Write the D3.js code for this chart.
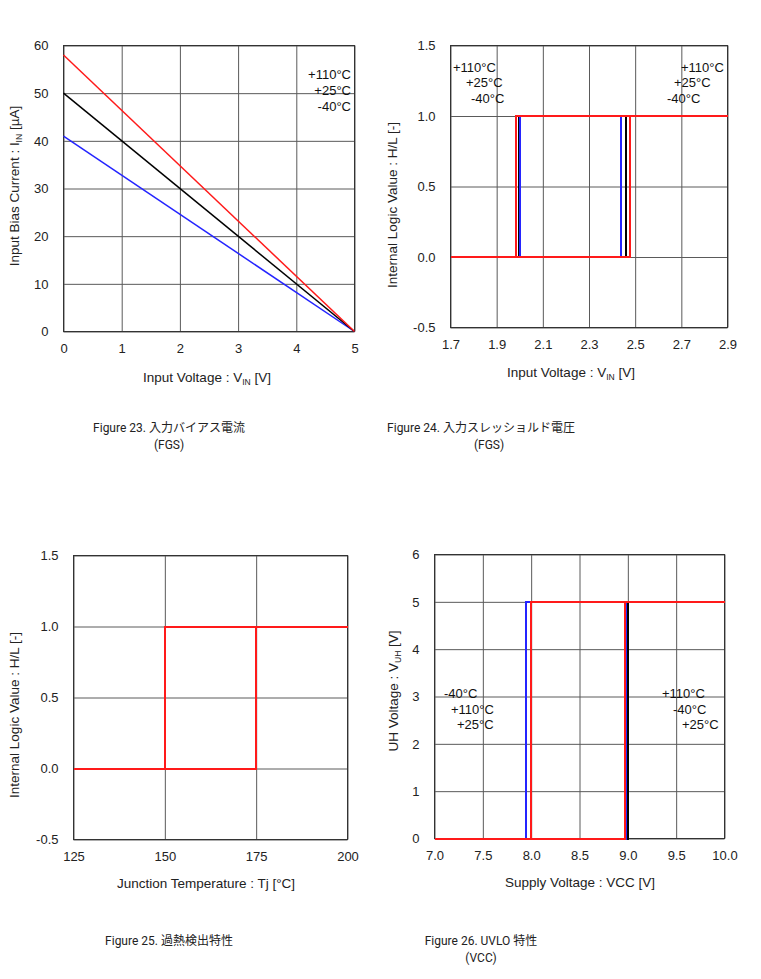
<!DOCTYPE html>
<html>
<head>
<meta charset="utf-8">
<script src="https://cdn.jsdelivr.net/npm/d3@7"></script>
<style>
  body { margin: 0; background: #fff; }
  svg { display: block; font-family: "Liberation Sans", Arial, "Noto Sans CJK JP", sans-serif; }
  .cap { font-family: Roboto, "Noto Sans CJK JP", sans-serif; }
</style>
</head>
<body>
<div id="chart"></div>
<script>
const RED = "#ff1a1a";
const BLACK = "#000000";
const BLUE = "#2424ff";
const GRID = "#5a5a5a";

// Figure 23: input bias current vs input voltage
const fig23Vin = [0, 5];
const fig23Hot = [58, 0];
const fig23Room = [50, 0];
const fig23Cold = [41, 0];
const fig23XTicks = [0, 1, 2, 3, 4, 5];
const fig23YTicks = [0, 10, 20, 30, 40, 50, 60];

// Figure 24: input threshold (rise / fall) for +110, +25, -40 °C
const fig24Temps = ["+110°C", "+25°C", "-40°C"];
const fig24Rise = [2.477, 2.46, 2.44];
const fig24Fall = [1.982, 1.998, 2.003];
const fig24XTicks = [1.7, 1.9, 2.1, 2.3, 2.5, 2.7, 2.9];
const fig24YTicks = [-0.5, 0.0, 0.5, 1.0, 1.5];

// Figure 25: thermal shutdown
const fig25Rise = [175];
const fig25Fall = [150];
const fig25XTicks = [125, 150, 175, 200];
const fig25YTicks = [-0.5, 0.0, 0.5, 1.0, 1.5];

// Figure 26: UVLO
const fig26Temps = ["+110°C", "+25°C", "-40°C"];
const fig26Rise = [8.972, 9.0, 8.979];
const fig26Fall = [7.995, 8.0, 7.95];
const fig26XTicks = [7.0, 7.5, 8.0, 8.5, 9.0, 9.5, 10.0];
const fig26YTicks = [0, 1, 2, 3, 4, 5, 6];

const tempColor = { "+110°C": RED, "+25°C": BLACK, "-40°C": BLUE };
const drawOrder = ["+25°C", "-40°C", "+110°C"];

const svg = d3.select("#chart").append("svg")
  .attr("width", 761).attr("height", 979);

function panel(cfg) {
  const x = d3.scaleLinear().domain(cfg.xDomain).range([cfg.left + 0.5, cfg.left + cfg.w + 0.5]);
  const y = d3.scaleLinear().domain(cfg.yDomain).range([cfg.top + cfg.h + 0.5, cfg.top + 0.5]);
  const g = svg.append("g");

  // grid + tick labels
  const xa = g.append("g").attr("transform", `translate(0,${cfg.top + cfg.h + 0.5})`)
    .call(d3.axisBottom(x).tickValues(cfg.xTicks).tickSize(-cfg.h).tickPadding(12).tickFormat(cfg.xFmt));
  const ya = g.append("g").attr("transform", `translate(${cfg.left + 0.5},0)`)
    .call(d3.axisLeft(y).tickValues(cfg.yTicks).tickSize(-cfg.w).tickPadding(15).tickFormat(cfg.yFmt));
  [xa, ya].forEach(a => {
    a.select(".domain").remove();
    a.selectAll("line").attr("stroke", GRID).attr("stroke-width", 1);
    a.selectAll("text").attr("font-size", 13).attr("fill", "#222")
      .attr("font-family", "'Liberation Sans', Arial, sans-serif");
  });

  g.append("rect")
    .attr("x", cfg.left + 0.5).attr("y", cfg.top + 0.5)
    .attr("width", cfg.w).attr("height", cfg.h)
    .attr("fill", "none").attr("stroke", "#333");

  const line = d3.line().x(d => x(d[0])).y(d => y(d[1]));
  cfg.series.forEach(s => {
    g.append("path").attr("d", line(s.pts))
      .attr("fill", "none").attr("stroke", s.color).attr("stroke-width", cfg.crisp ? 2 : 1.5)
      .attr("shape-rendering", cfg.crisp ? "crispEdges" : null);
  });

  // axis titles
  const xt = g.append("text")
    .attr("x", cfg.xTitlePos[0]).attr("y", cfg.xTitlePos[1])
    .attr("text-anchor", "middle").attr("font-size", 13.5).attr("fill", "#222");
  cfg.xTitle.forEach(p => xt.append("tspan").text(p[0])
    .attr("font-size", p[1] ? 8.5 : 13.5).attr("dy", p[1] ? 3 : (p[2] ? -3 : 0)));

  const yt = g.append("text")
    .attr("transform", `translate(${cfg.yTitlePos[0]},${cfg.yTitlePos[1]}) rotate(-90)`)
    .attr("text-anchor", "middle").attr("font-size", 13.5).attr("fill", "#222");
  cfg.yTitle.forEach(p => yt.append("tspan").text(p[0])
    .attr("font-size", p[1] ? 8.5 : 13.5).attr("dy", p[1] ? 3 : (p[2] ? -3 : 0)));

  // temperature notes
  (cfg.notes || []).forEach(n => {
    g.append("text").attr("x", cfg.left + n[1]).attr("y", cfg.top + n[2])
      .attr("text-anchor", n[3] || "start").attr("font-size", 13).attr("fill", "#111")
      .text(n[0]);
  });

  // caption
  cfg.caption.forEach(c => {
    g.append("text").attr("class", "cap")
      .attr("x", c[1]).attr("y", c[2]).attr("text-anchor", "middle")
      .attr("font-size", 12).attr("fill", "#222").text(c[0]);
  });
}

function loop(xd, rise, fall, lo, hi) {
  return [[xd[0], lo], [rise, lo], [rise, hi], [xd[1], hi], [fall, hi], [fall, lo], [xd[0], lo]];
}

const f1 = d => d.toFixed(1);
const f0 = d => String(d);
const SP = "\u00a0";

// Figure 23
panel({
  left: 63, top: 45, w: 291, h: 286,
  xDomain: [0, 5], yDomain: [0, 60],
  xTicks: fig23XTicks, yTicks: fig23YTicks, xFmt: f0, yFmt: f0,
  series: [
    { color: BLUE, pts: fig23Vin.map((v, i) => [v, fig23Cold[i]]) },
    { color: BLACK, pts: fig23Vin.map((v, i) => [v, fig23Room[i]]) },
    { color: RED, pts: fig23Vin.map((v, i) => [v, fig23Hot[i]]) }
  ],
  xTitle: [["Input Voltage : V"], ["IN", true], [SP + "[V]", false, true]],
  xTitlePos: [207, 382],
  yTitle: [["Input Bias Current : I"], ["IN", true], [SP + "[µA]", false, true]],
  yTitlePos: [19, 186],
  notes: [["+110°C", 288, 34, "end"], ["+25°C", 288, 50, "end"], ["-40°C", 288, 66, "end"]],
  caption: [["Figure 23." + SP + "入力バイアス電流", 169, 432], ["(FGS)", 169, 449]]
});

// Figure 24
panel({
  left: 450, top: 45, w: 277, h: 282, crisp: true,
  xDomain: [1.7, 2.9], yDomain: [-0.5, 1.5],
  xTicks: fig24XTicks, yTicks: fig24YTicks, xFmt: f1, yFmt: f1,
  series: drawOrder.map(t => {
    const i = fig24Temps.indexOf(t);
    return { color: tempColor[t], pts: loop([1.7, 2.9], fig24Rise[i], fig24Fall[i], 0, 1) };
  }),
  xTitle: [["Input Voltage : V"], ["IN", true], [SP + "[V]", false, true]],
  xTitlePos: [571, 377],
  yTitle: [["Internal Logic Value : H/L [-]"]],
  yTitlePos: [397, 205],
  notes: [["+110°C", 3, 27], ["+25°C", 16, 42], ["-40°C", 21, 58],
          ["+110°C", 231, 27], ["+25°C", 224, 42], ["-40°C", 217, 58]],
  caption: [["Figure 24." + SP + "入力スレッショルド電圧", 481, 432], ["(FGS)", 489, 449]]
});

// Figure 25
panel({
  left: 73, top: 555, w: 274, h: 284, crisp: true,
  xDomain: [125, 200], yDomain: [-0.5, 1.5],
  xTicks: fig25XTicks, yTicks: fig25YTicks, xFmt: f0, yFmt: f1,
  series: [{ color: RED, pts: loop([125, 200], fig25Rise[0], fig25Fall[0], 0, 1) }],
  xTitle: [["Junction Temperature : Tj [°C]"]],
  xTitlePos: [206, 888],
  yTitle: [["Internal Logic Value : H/L [-]"]],
  yTitlePos: [19, 715],
  caption: [["Figure 25." + SP + "過熱検出特性", 169, 945]]
});

// Figure 26
panel({
  left: 434, top: 554, w: 290, h: 284, crisp: true,
  xDomain: [7, 10], yDomain: [0, 6],
  xTicks: fig26XTicks, yTicks: fig26YTicks, xFmt: f1, yFmt: f0,
  series: drawOrder.map(t => {
    const i = fig26Temps.indexOf(t);
    return { color: tempColor[t], pts: loop([7, 10], fig26Rise[i], fig26Fall[i], 0, 5) };
  }),
  xTitle: [["Supply Voltage : VCC [V]"]],
  xTitlePos: [580, 887],
  yTitle: [["UH Voltage : V"], ["UH", true], [SP + "[V]", false, true]],
  yTitlePos: [398, 691],
  notes: [["-40°C", 10, 144], ["+110°C", 17, 160], ["+25°C", 23, 175],
          ["+110°C", 228, 144], ["-40°C", 239, 160], ["+25°C", 248, 175]],
  caption: [["Figure 26. UVLO 特性", 481, 945], ["(VCC)", 481, 962]]
});
</script>
</body>
</html>
